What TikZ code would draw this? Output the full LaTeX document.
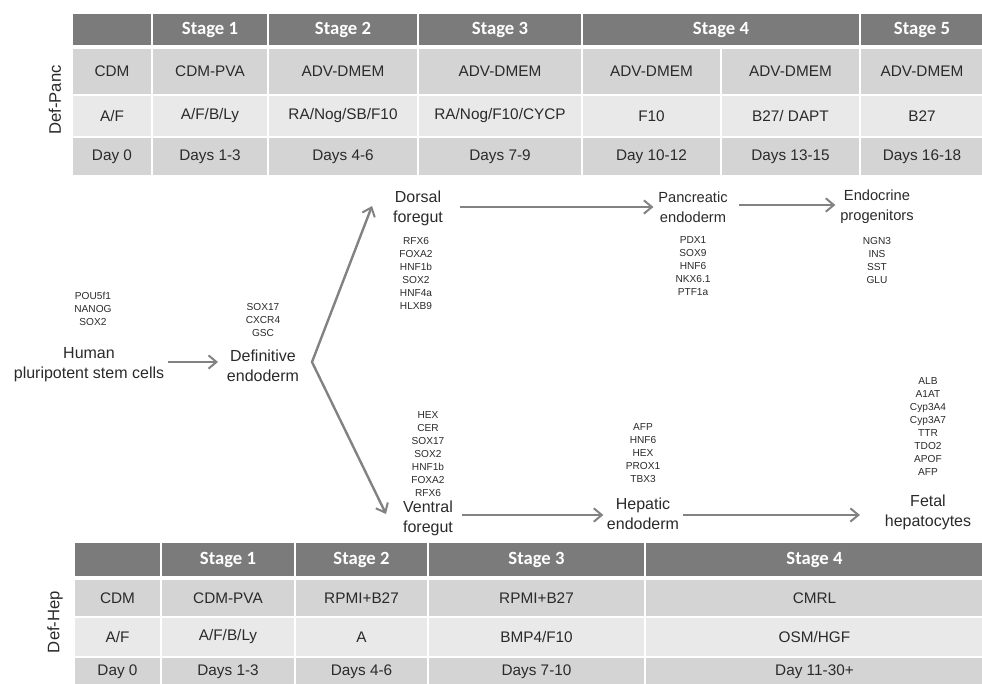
\documentclass[tikz,border=0pt]{standalone}
\usepackage{fontspec}
\setmainfont{Liberation Sans}
\newfontfamily\hdfont{Carlito}
\usetikzlibrary{arrows.meta}
\definecolor{hdr}{HTML}{7B7B7B}
\definecolor{rowa}{HTML}{D4D4D4}
\definecolor{rowb}{HTML}{E9E9E9}
\definecolor{txt}{HTML}{2A2A2A}
\definecolor{arr}{HTML}{828282}
\tikzset{
  celltext/.style={font=\fontsize{11.5}{13}\selectfont, text=txt, inner sep=0pt},
  hdrtext/.style={font=\hdfont\bfseries\fontsize{14}{16}\selectfont, text=white, inner sep=0pt},
  sidetext/.style={font=\fontsize{12.5}{15}\selectfont, text=txt, rotate=90, inner sep=0pt},
  lbl/.style={font=\fontsize{12}{14.8}\selectfont, text=txt, align=center, inner sep=1.5pt},
  lbls/.style={font=\fontsize{11}{14.8}\selectfont, text=txt, align=center, inner sep=1.5pt},
  genes/.style={font=\fontsize{7.6}{9.75}\selectfont, text=txt, align=center, inner sep=0pt},
  flow/.style={draw=arr, line width=1.8pt, line join=miter, -{Straight Barb[length=6pt,width=10pt,line width=1.5pt]}},
}
% name x1 y1 x2 y2 fill style text
\newcommand\mycell[8]{%
  \fill[#6] (#2+1,#3+1) rectangle (#4-1,#5-1);
  \node[#7] (#1) at ({(#2+#4)/2},{(#3+#5)/2}) {#8};}
\begin{document}
\begin{tikzpicture}[x=0.75pt,y=-0.75pt]
\useasboundingbox (0,0) rectangle (982,684);
% ---------- top table ----------
\mycell{ph0}{72}{13}{152}{46}{hdr}{hdrtext}{}
\mycell{ph1}{152}{13}{268}{46}{hdr}{hdrtext}{Stage 1}
\mycell{ph2}{268}{13}{418}{46}{hdr}{hdrtext}{Stage 2}
\mycell{ph3}{418}{13}{582}{46}{hdr}{hdrtext}{Stage 3}
\mycell{ph4}{582}{13}{860}{46}{hdr}{hdrtext}{Stage 4}
\mycell{ph5}{860}{13}{984}{46}{hdr}{hdrtext}{Stage 5}
%
\mycell{pa0}{72}{48}{152}{95}{rowa}{celltext}{CDM}
\mycell{pa1}{152}{48}{268}{95}{rowa}{celltext}{CDM-PVA}
\mycell{pa2}{268}{48}{418}{95}{rowa}{celltext}{ADV-DMEM}
\mycell{pa3}{418}{48}{582}{95}{rowa}{celltext}{ADV-DMEM}
\mycell{pa4}{582}{48}{721}{95}{rowa}{celltext}{ADV-DMEM}
\mycell{pa5}{721}{48}{860}{95}{rowa}{celltext}{ADV-DMEM}
\mycell{pa6}{860}{48}{984}{95}{rowa}{celltext}{ADV-DMEM}
%
\mycell{pb0}{72}{95}{152}{137}{rowb}{celltext}{A/F}
\mycell{pb1}{152}{95}{268}{137}{rowb}{celltext}{A/F/B/Ly}
\mycell{pb2}{268}{95}{418}{137}{rowb}{celltext}{RA/Nog/SB/F10}
\mycell{pb3}{418}{95}{582}{137}{rowb}{celltext}{RA/Nog/F10/CYCP}
\mycell{pb4}{582}{95}{721}{137}{rowb}{celltext}{F10}
\mycell{pb5}{721}{95}{860}{137}{rowb}{celltext}{B27/ DAPT}
\mycell{pb6}{860}{95}{984}{137}{rowb}{celltext}{B27}
%
\mycell{pc0}{72}{137}{152}{176}{rowa}{celltext}{Day 0}
\mycell{pc1}{152}{137}{268}{176}{rowa}{celltext}{Days 1-3}
\mycell{pc2}{268}{137}{418}{176}{rowa}{celltext}{Days 4-6}
\mycell{pc3}{418}{137}{582}{176}{rowa}{celltext}{Days 7-9}
\mycell{pc4}{582}{137}{721}{176}{rowa}{celltext}{Day 10-12}
\mycell{pc5}{721}{137}{860}{176}{rowa}{celltext}{Days 13-15}
\mycell{pc6}{860}{137}{984}{176}{rowa}{celltext}{Days 16-18}
\node[sidetext] (defpanc) at (55,100) {Def-Panc};
% ---------- bottom table ----------
\mycell{hh0}{74}{542}{161}{577}{hdr}{hdrtext}{}
\mycell{hh1}{161}{542}{295}{577}{hdr}{hdrtext}{Stage 1}
\mycell{hh2}{295}{542}{428}{577}{hdr}{hdrtext}{Stage 2}
\mycell{hh3}{428}{542}{645}{577}{hdr}{hdrtext}{Stage 3}
\mycell{hh4}{645}{542}{984}{577}{hdr}{hdrtext}{Stage 4}
%
\mycell{ha0}{74}{579}{161}{617}{rowa}{celltext}{CDM}
\mycell{ha1}{161}{579}{295}{617}{rowa}{celltext}{CDM-PVA}
\mycell{ha2}{295}{579}{428}{617}{rowa}{celltext}{RPMI+B27}
\mycell{ha3}{428}{579}{645}{617}{rowa}{celltext}{RPMI+B27}
\mycell{ha4}{645}{579}{984}{617}{rowa}{celltext}{CMRL}
%
\mycell{hb0}{74}{617}{161}{657}{rowb}{celltext}{A/F}
\mycell{hb1}{161}{617}{295}{657}{rowb}{celltext}{A/F/B/Ly}
\mycell{hb2}{295}{617}{428}{657}{rowb}{celltext}{A}
\mycell{hb3}{428}{617}{645}{657}{rowb}{celltext}{BMP4/F10}
\mycell{hb4}{645}{617}{984}{657}{rowb}{celltext}{OSM/HGF}
%
\mycell{hc0}{74}{657}{161}{686}{rowa}{celltext}{Day 0}
\mycell{hc1}{161}{657}{295}{686}{rowa}{celltext}{Days 1-3}
\mycell{hc2}{295}{657}{428}{686}{rowa}{celltext}{Days 4-6}
\mycell{hc3}{428}{657}{645}{686}{rowa}{celltext}{Days 7-10}
\mycell{hc4}{645}{657}{984}{686}{rowa}{celltext}{Day 11-30+}
\node[sidetext] (defhep) at (55,622) {Def-Hep};
% ---------- flow ----------
\node[lbl] (hpsc) at (89,365) {Human\\pluripotent stem cells};
\node[genes] (ghpsc) at (93,309) {POU5f1\\NANOG\\SOX2};
\node[lbl] (defend) at (263,366) {Definitive\\endoderm};
\node[genes] (gdefend) at (263,320) {SOX17\\CXCR4\\GSC};
\node[lbl] (dorsal) at (418,208) {Dorsal\\foregut};
\node[genes] (gdorsal) at (416,274) {RFX6\\FOXA2\\HNF1b\\SOX2\\HNF4a\\HLXB9};
\node[lbls] (panc) at (693,207) {Pancreatic\\endoderm};
\node[genes] (gpanc) at (693,266) {PDX1\\SOX9\\HNF6\\NKX6.1\\PTF1a};
\node[lbls] (endo) at (877,207) {Endocrine\\progenitors};
\node[genes] (gendo) at (877,261) {NGN3\\INS\\SST\\GLU};
\node[lbl] (ventral) at (428,518) {Ventral\\foregut};
\node[genes] (gventral) at (428,454) {HEX\\CER\\SOX17\\SOX2\\HNF1b\\FOXA2\\RFX6};
\node[lbl] (hepatic) at (643,514) {Hepatic\\endoderm};
\node[genes] (ghepatic) at (643,453) {AFP\\HNF6\\HEX\\PROX1\\TBX3};
\node[lbl] (fetal) at (928,512) {Fetal\\hepatocytes};
\node[genes] (gfetal) at (928,427) {ALB\\A1AT\\Cyp3A4\\Cyp3A7\\TTR\\TDO2\\APOF\\AFP};
\coordinate (br) at (312,362);
\coordinate (dtip) at (372,206);
\coordinate (vtip) at (386,514);
\coordinate (y1) at (0,362);
\coordinate (y2) at (0,207);
\coordinate (y3) at (0,205);
\coordinate (y4) at (0,515);
\draw[flow, shorten <=1pt, shorten >=5pt] (hpsc.east |- y1) -- (defend.west |- y1);
\draw[flow, {Straight Barb[length=6pt,width=10pt,line width=1.5pt]}-{Straight Barb[length=6pt,width=10pt,line width=1.5pt]}] (dtip) -- (br) -- (vtip);
\draw[flow, shorten <=11pt, shorten >=2pt] (dorsal.east |- y2) -- (panc.west |- y2);
\draw[flow, shorten <=7pt, shorten >=2pt] (panc.east |- y3) -- (endo.west |- y3);
\draw[flow, shorten <=5pt, shorten >=1pt] (ventral.east |- y4) -- (hepatic.west |- y4);
\draw[flow, shorten <=1pt, shorten >=17pt] (hepatic.east |- y4) -- (fetal.west |- y4);
\end{tikzpicture}
\end{document}
